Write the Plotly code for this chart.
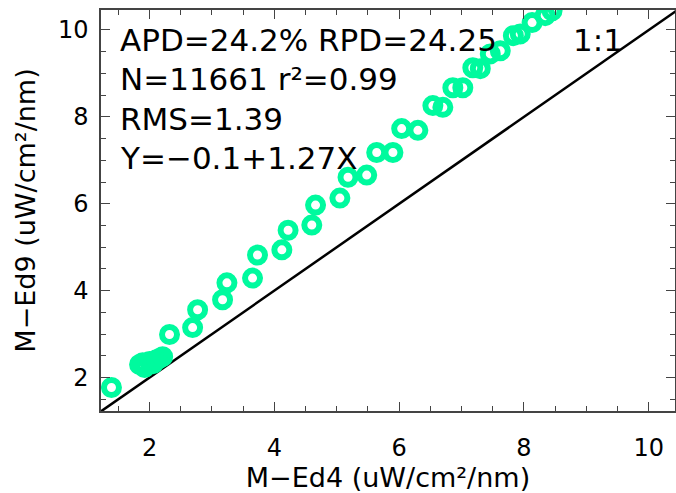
import plotly.graph_objects as go

# Data
x_vals = [1.39, 1.84, 1.89, 1.92, 2.00, 2.06, 2.11, 2.16, 2.21,
          2.32, 2.69, 2.77, 3.17, 3.24, 3.65, 3.73, 4.12, 4.22, 4.60, 4.66,
          5.05, 5.18, 5.48, 5.64, 5.90, 6.04, 6.30, 6.54, 6.70, 6.86, 7.02,
          7.18, 7.30, 7.46, 7.62, 7.83, 7.94, 8.13, 8.34, 8.45]
y_vals = [1.77, 2.30, 2.34, 2.23, 2.37, 2.32, 2.41, 2.44, 2.48,
          2.99, 3.15, 3.56, 3.79, 4.18, 4.29, 4.82, 4.94, 5.39, 5.51, 5.97,
          6.13, 6.61, 6.66, 7.18, 7.18, 7.73, 7.69, 8.26, 8.22, 8.67, 8.67,
          9.13, 9.11, 9.45, 9.52, 9.87, 9.91, 10.17, 10.33, 10.44]

x_range = [1.222, 10.42]
y_range = [1.23, 10.46]
one_to_one = [1.0, 11.0]

stats_lines = ["APD=24.2% RPD=24.25", "N=11661 r²=0.99", "RMS=1.39", "Y=−0.1+1.27X"]
line_label = "1:1"
x_title = "M−Ed4 (uW/cm²/nm)"
y_title = "M−Ed9 (uW/cm²/nm)"
tick_vals = [2, 4, 6, 8, 10]

FONT = "DejaVu Sans ExtraLight, DejaVu Sans"
GREEN = "#00FA9E"

fig = go.Figure()
fig.add_trace(go.Scatter(
    x=one_to_one, y=one_to_one, mode="lines",
    line=dict(color="black", width=2.5), showlegend=False, hoverinfo="skip"))
fig.add_trace(go.Scatter(
    x=x_vals, y=y_vals, mode="markers",
    marker=dict(symbol="circle-open", size=15, color=GREEN, line=dict(width=6, color=GREEN)),
    showlegend=False, cliponaxis=True))

axis_common = dict(
    showgrid=False, zeroline=False, showline=True, linecolor="#444", linewidth=1.5,
    mirror="ticks", ticks="inside", ticklen=9, tickwidth=1.2, tickcolor="#444",
    tickvals=tick_vals, tickfont=dict(family=FONT, size=24, color="black"),
    minor=dict(dtick=0.5, ticks="inside", ticklen=5, tickwidth=1.2, tickcolor="#444", showgrid=False),
    automargin=False,
)

fig.update_xaxes(range=x_range, title=dict(text=x_title, font=dict(family=FONT, size=27, color="black"), standoff=8),
                 ticklabelstandoff=14, **axis_common)
fig.update_yaxes(range=y_range, title=dict(text=y_title, font=dict(family=FONT, size=27, color="black"), standoff=14),
                 ticklabelstandoff=6, **axis_common)

row_y = [0.925, 0.828, 0.729, 0.631]
for txt, yy in zip(stats_lines, row_y):
    fig.add_annotation(x=0.029, y=yy, xref="paper", yref="paper", text=txt, showarrow=False,
                       xanchor="left", yanchor="middle", font=dict(family=FONT, size=31, color="black"))
fig.add_annotation(x=0.866, y=0.925, xref="paper", yref="paper", text=line_label, showarrow=False,
                   xanchor="center", yanchor="middle", font=dict(family=FONT, size=31, color="black"))

fig.update_layout(
    width=676, height=493,
    margin=dict(l=101, r=1, t=10, b=82),
    plot_bgcolor="white", paper_bgcolor="white",
    font=dict(family=FONT, color="black"),
)

fig.write_html("out.html", config={"displayModeBar": False},
               post_script="document.body.style.margin='0';document.body.style.overflow='hidden';")
